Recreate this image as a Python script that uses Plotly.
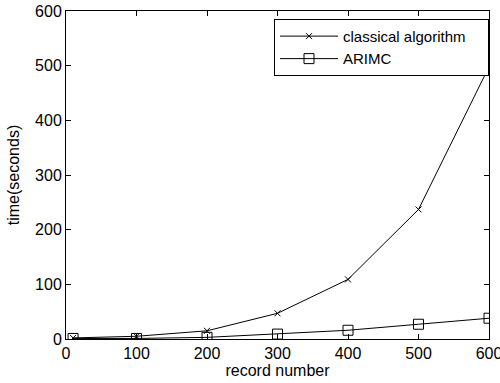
import plotly.graph_objects as go

record_number = [10, 100, 200, 300, 400, 500, 600]
classical = [2, 5, 15, 47, 109, 237, 498]
arimc = [1, 1, 3, 9, 16, 27, 38]

FONT = "Liberation Sans, Arial, sans-serif"

fig = go.Figure()
fig.add_trace(go.Scatter(
    x=record_number, y=classical, name="classical algorithm    ",
    mode="lines+markers",
    line=dict(color="black", width=1),
    marker=dict(symbol="x-thin-open", size=6, color="black", line=dict(color="black", width=1)),
))
fig.add_trace(go.Scatter(
    x=record_number, y=arimc, name="ARIMC",
    mode="lines+markers",
    line=dict(color="black", width=1),
    marker=dict(symbol="square-open", size=10, color="black", line=dict(color="black", width=1)),
))

axis_common = dict(
    showline=True, linecolor="black", linewidth=1, mirror="ticks",
    ticks="inside", ticklen=5, tickcolor="black", tickwidth=1,
    showgrid=False, zeroline=False, automargin=False,
    tickfont=dict(family=FONT, size=16, color="black"),
)

fig.update_layout(
    width=500, height=383,
    margin=dict(l=66, r=11, t=11, b=44),
    paper_bgcolor="white", plot_bgcolor="white",
    font=dict(family=FONT, size=16, color="black"),
    xaxis=dict(range=[0, 600], tickvals=[0, 100, 200, 300, 400, 500, 600],
               ticklabeloverflow="allow",
               title=dict(text="record number", font=dict(family=FONT, size=16), standoff=3),
               **axis_common),
    yaxis=dict(range=[0, 600], tickvals=[0, 100, 200, 300, 400, 500, 600],
               title=dict(text="time(seconds)", font=dict(family=FONT, size=16), standoff=11),
               **axis_common),
    legend=dict(x=1, y=0.976, xanchor="right", yanchor="top",
                bordercolor="black", borderwidth=1, bgcolor="white",
                font=dict(family=FONT, size=15), tracegroupgap=0,
                itemwidth=58),
    showlegend=True,
)

fig.write_html("out.html")
